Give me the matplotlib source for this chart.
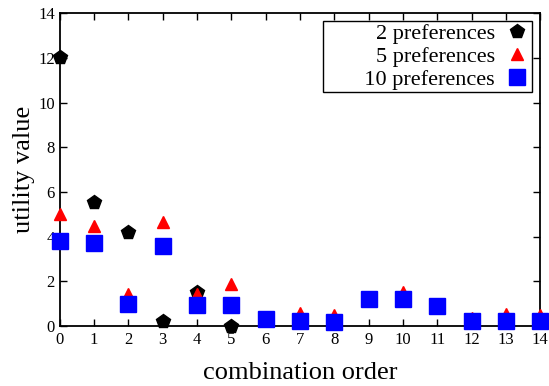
import matplotlib
matplotlib.use("Agg")
import matplotlib.pyplot as plt

plt.rcParams['font.family'] = ['Liberation Serif', 'DejaVu Serif']

x2 = [0, 1, 2, 3, 4, 5]
y2 = [12.05, 5.55, 4.2, 0.25, 1.55, 0.0]
x5 = list(range(15))
y5 = [5.0, 4.5, 1.45, 4.65, 1.45, 1.9, 0.4, 0.6, 0.5, 1.3, 1.55, 1.0, 0.35, 0.55, 0.5]
x10 = list(range(15))
y10 = [3.8, 3.7, 1.0, 3.6, 0.95, 0.95, 0.3, 0.25, 0.2, 1.2, 1.2, 0.9, 0.25, 0.25, 0.25]
xticks = list(range(15))
yticks = [0, 2, 4, 6, 8, 10, 12, 14]

fig = plt.figure(figsize=(5.49, 3.86), dpi=100)
ax = fig.add_axes([0.109, 0.155, 0.875, 0.811])

ax.plot(x2, y2, linestyle='none', marker='p', color='black', markersize=10,
        label='2 preferences', clip_on=False, zorder=3)
ax.plot(x5, y5, linestyle='none', marker='^', color='red', markersize=9,
        label='5 preferences', clip_on=False, zorder=4)
ax.plot(x10, y10, linestyle='none', marker='s', color='blue', markersize=11,
        label='       10 preferences', clip_on=False, zorder=5)

ax.set_xlim(0, 14)
ax.set_ylim(0, 14)
ax.set_xticks(xticks)
ax.set_yticks(yticks)
ax.tick_params(direction='in', top=True, right=True, length=5, width=1, labelsize=12)
ax.tick_params(axis='x', pad=4)
for s in ax.spines.values():
    s.set_linewidth(1.3)

ax.set_xlabel('combination order', fontsize=19, labelpad=10)
ax.set_ylabel('utility value', fontsize=19, labelpad=2)

leg = ax.legend(loc='upper right', markerfirst=False, fontsize=16, fancybox=False,
                framealpha=1, edgecolor='black', borderpad=0.1, labelspacing=0.12,
                handletextpad=0.4, handlelength=1.2, borderaxespad=0.35)
leg.get_frame().set_linewidth(1.0)
for t in leg.get_texts():
    t.set_ha('right')

fig.savefig('out.png', dpi=100)
